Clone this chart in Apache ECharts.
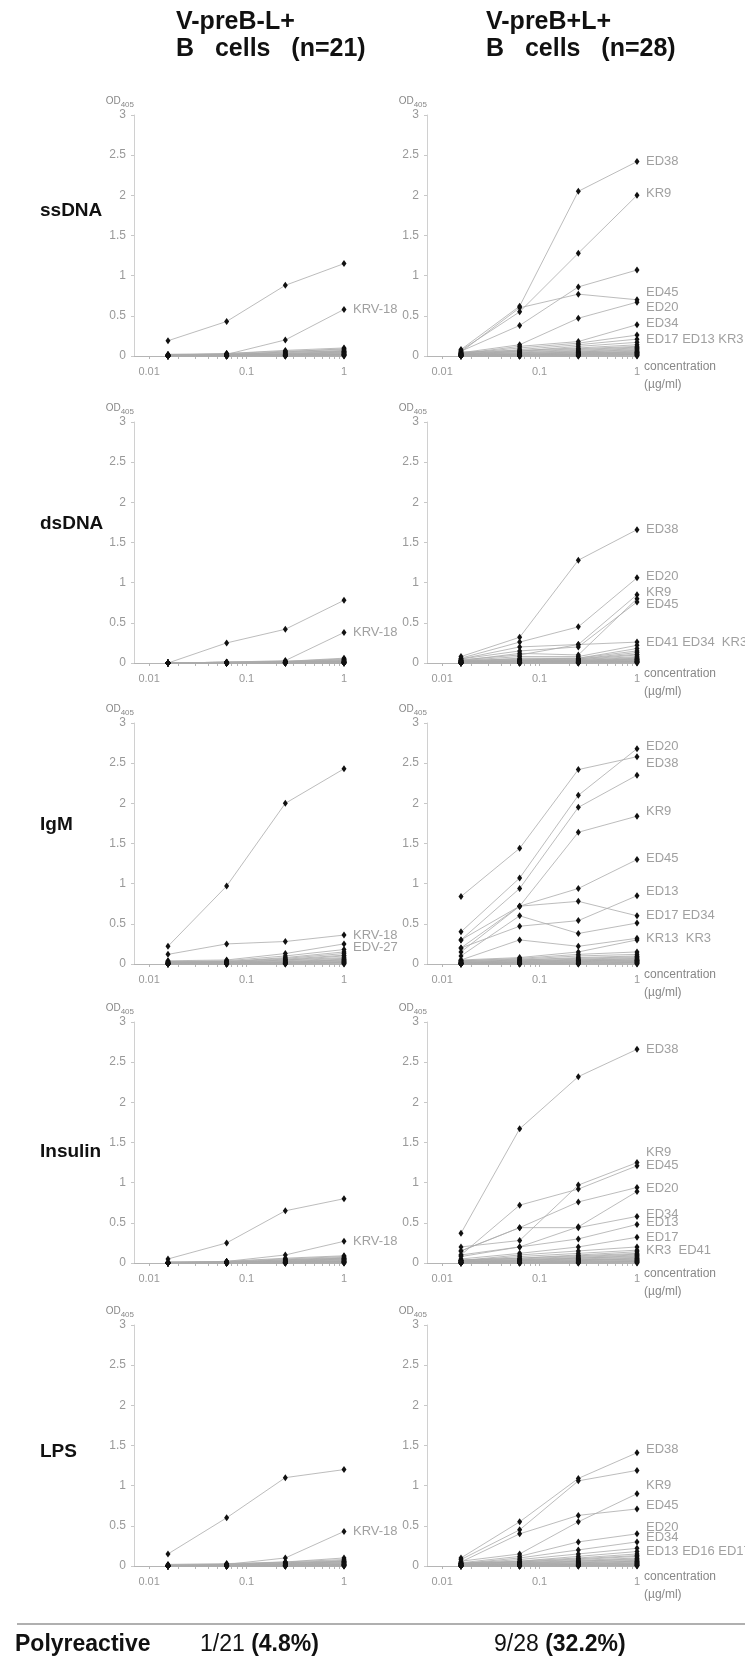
<!DOCTYPE html>
<html>
<head>
<meta charset="utf-8">
<script src="https://cdn.jsdelivr.net/npm/echarts@6/dist/echarts.min.js"></script>
<style>
  html, body { margin: 0; padding: 0; background: #fff; }
  #chart { width: 745px; height: 1662px; }
</style>
</head>
<body>
<div id="chart"></div>
<script>
// antigen concentrations (ug/ml), 4-fold dilutions
var conc = [0.015625, 0.0625, 0.25, 1];
var xLabelVals = [0.01, 0.1, 1];
var xTickVals = [0.01, 0.02, 0.03, 0.04, 0.05, 0.06, 0.07, 0.08, 0.09,
  0.1, 0.2, 0.3, 0.4, 0.5, 0.6, 0.7, 0.8, 0.9, 1];
var rowNames = ['ssDNA', 'dsDNA', 'IgM', 'Insulin', 'LPS'];

// OD405 per clone, one row = one antibody
var ssdnaLeft = [
  [0.19, 0.43, 0.88, 1.15],
  [0.01, 0.02, 0.20, 0.58],
  [0.02, 0.03, 0.07, 0.10], [0.01, 0.02, 0.05, 0.09], [0.01, 0.03, 0.06, 0.08],
  [0.02, 0.02, 0.04, 0.07], [0.01, 0.01, 0.05, 0.06], [0.01, 0.02, 0.03, 0.06],
  [0.00, 0.01, 0.03, 0.05], [0.01, 0.02, 0.02, 0.05], [0.00, 0.01, 0.02, 0.04],
  [0.01, 0.01, 0.02, 0.04], [0.00, 0.01, 0.01, 0.03], [0.00, 0.00, 0.02, 0.03],
  [0.01, 0.01, 0.01, 0.02], [0.00, 0.01, 0.01, 0.02], [0.00, 0.00, 0.01, 0.02],
  [0.00, 0.00, 0.01, 0.01], [0.00, 0.00, 0.00, 0.01], [0.00, 0.01, 0.00, 0.01],
  [0.00, 0.00, 0.00, 0.00]
];
var ssdnaRight = [
  [0.08, 0.62, 2.05, 2.42],   // ED38
  [0.07, 0.55, 1.28, 2.00],   // KR9
  [0.06, 0.38, 0.86, 1.07],
  [0.05, 0.60, 0.77, 0.70],   // ED45
  [0.04, 0.14, 0.47, 0.67],   // ED20
  [0.03, 0.12, 0.18, 0.39],   // ED34
  [0.03, 0.10, 0.16, 0.26],   // ED17
  [0.02, 0.08, 0.14, 0.21],   // ED13
  [0.02, 0.06, 0.12, 0.17],   // KR3
  [0.05, 0.07, 0.10, 0.14], [0.04, 0.06, 0.09, 0.12], [0.03, 0.05, 0.08, 0.11],
  [0.03, 0.04, 0.07, 0.10], [0.02, 0.04, 0.06, 0.09], [0.02, 0.03, 0.05, 0.08],
  [0.02, 0.03, 0.05, 0.07], [0.01, 0.02, 0.04, 0.06], [0.01, 0.02, 0.04, 0.05],
  [0.01, 0.02, 0.03, 0.05], [0.01, 0.01, 0.03, 0.04], [0.01, 0.01, 0.02, 0.04],
  [0.00, 0.01, 0.02, 0.03], [0.00, 0.01, 0.02, 0.03], [0.00, 0.01, 0.01, 0.02],
  [0.00, 0.00, 0.01, 0.02], [0.00, 0.00, 0.01, 0.01], [0.00, 0.00, 0.00, 0.01],
  [0.00, 0.00, 0.00, 0.00]
];
var dsdnaLeft = [
  [0.00, 0.25, 0.42, 0.78],
  [0.00, 0.01, 0.03, 0.38],
  [0.00, 0.01, 0.02, 0.06], [0.00, 0.01, 0.02, 0.05], [0.00, 0.00, 0.02, 0.04],
  [0.00, 0.01, 0.01, 0.04], [0.00, 0.00, 0.01, 0.03], [0.00, 0.00, 0.01, 0.03],
  [0.00, 0.01, 0.01, 0.02], [0.00, 0.00, 0.01, 0.02], [0.00, 0.00, 0.00, 0.02],
  [0.00, 0.00, 0.01, 0.01], [0.00, 0.00, 0.00, 0.01], [0.00, 0.00, 0.00, 0.01],
  [0.00, 0.00, 0.01, 0.01], [0.00, 0.00, 0.00, 0.01], [0.00, 0.00, 0.00, 0.00],
  [0.00, 0.00, 0.00, 0.00], [0.00, 0.00, 0.00, 0.00], [0.00, 0.00, 0.00, 0.00],
  [0.00, 0.00, 0.00, 0.00]
];
var dsdnaRight = [
  [0.08, 0.32, 1.28, 1.66],   // ED38
  [0.06, 0.26, 0.45, 1.06],   // ED20
  [0.05, 0.20, 0.23, 0.85],   // KR9
  [0.03, 0.12, 0.10, 0.80],
  [0.05, 0.15, 0.20, 0.76],   // ED45
  [0.04, 0.10, 0.23, 0.26],   // ED41
  [0.03, 0.08, 0.08, 0.22],   // ED34
  [0.02, 0.06, 0.06, 0.18],   // KR3
  [0.03, 0.05, 0.06, 0.15], [0.03, 0.04, 0.05, 0.13], [0.02, 0.04, 0.05, 0.11],
  [0.02, 0.03, 0.04, 0.10], [0.02, 0.03, 0.04, 0.08], [0.01, 0.03, 0.03, 0.07],
  [0.01, 0.02, 0.03, 0.06], [0.01, 0.02, 0.03, 0.05], [0.01, 0.02, 0.02, 0.05],
  [0.01, 0.01, 0.02, 0.04], [0.01, 0.01, 0.02, 0.04], [0.00, 0.01, 0.02, 0.03],
  [0.00, 0.01, 0.01, 0.03], [0.00, 0.01, 0.01, 0.02], [0.00, 0.01, 0.01, 0.02],
  [0.00, 0.00, 0.01, 0.02], [0.00, 0.00, 0.01, 0.01], [0.00, 0.00, 0.00, 0.01],
  [0.00, 0.00, 0.00, 0.01], [0.00, 0.00, 0.00, 0.00]
];
var igmLeft = [
  [0.22, 0.97, 2.00, 2.43],
  [0.12, 0.25, 0.28, 0.36],   // KRV-18
  [0.04, 0.05, 0.13, 0.25],   // EDV-27
  [0.03, 0.04, 0.10, 0.18], [0.03, 0.03, 0.08, 0.15], [0.02, 0.03, 0.07, 0.13],
  [0.02, 0.03, 0.06, 0.11], [0.02, 0.02, 0.05, 0.10], [0.01, 0.02, 0.05, 0.08],
  [0.01, 0.02, 0.04, 0.07], [0.01, 0.02, 0.03, 0.06], [0.01, 0.01, 0.03, 0.05],
  [0.01, 0.01, 0.02, 0.05], [0.00, 0.01, 0.02, 0.04], [0.00, 0.01, 0.02, 0.03],
  [0.00, 0.01, 0.01, 0.03], [0.00, 0.00, 0.01, 0.02], [0.00, 0.00, 0.01, 0.02],
  [0.00, 0.00, 0.01, 0.01], [0.00, 0.00, 0.00, 0.01], [0.00, 0.00, 0.00, 0.00]
];
var igmRight = [
  [0.84, 1.44, 2.42, 2.58],   // ED38
  [0.40, 1.07, 2.10, 2.68],   // ED20
  [0.30, 0.94, 1.95, 2.35],
  [0.20, 0.72, 1.64, 1.84],   // KR9
  [0.30, 0.72, 0.94, 1.30],   // ED45
  [0.15, 0.72, 0.78, 0.60],   // ED17
  [0.20, 0.47, 0.54, 0.85],   // ED13
  [0.10, 0.60, 0.38, 0.51],   // ED34
  [0.05, 0.30, 0.22, 0.32],   // KR13
  [0.05, 0.08, 0.15, 0.30],   // KR3
  [0.04, 0.07, 0.12, 0.15], [0.04, 0.06, 0.10, 0.12], [0.03, 0.05, 0.08, 0.10],
  [0.03, 0.05, 0.07, 0.09], [0.02, 0.04, 0.06, 0.08], [0.02, 0.04, 0.05, 0.07],
  [0.02, 0.03, 0.05, 0.06], [0.01, 0.03, 0.04, 0.05], [0.01, 0.02, 0.04, 0.05],
  [0.01, 0.02, 0.03, 0.04], [0.01, 0.02, 0.03, 0.04], [0.01, 0.01, 0.02, 0.03],
  [0.00, 0.01, 0.02, 0.03], [0.00, 0.01, 0.01, 0.02], [0.00, 0.01, 0.01, 0.02],
  [0.00, 0.00, 0.01, 0.01], [0.00, 0.00, 0.00, 0.01], [0.00, 0.00, 0.00, 0.00]
];
var insulinLeft = [
  [0.05, 0.25, 0.65, 0.80],
  [0.00, 0.02, 0.10, 0.27],
  [0.01, 0.02, 0.06, 0.09], [0.01, 0.02, 0.05, 0.08], [0.01, 0.01, 0.04, 0.07],
  [0.00, 0.01, 0.04, 0.06], [0.01, 0.01, 0.03, 0.06], [0.00, 0.01, 0.03, 0.05],
  [0.00, 0.01, 0.02, 0.05], [0.00, 0.01, 0.02, 0.04], [0.00, 0.00, 0.02, 0.04],
  [0.00, 0.01, 0.01, 0.03], [0.00, 0.00, 0.01, 0.03], [0.00, 0.00, 0.01, 0.02],
  [0.00, 0.00, 0.01, 0.02], [0.00, 0.00, 0.00, 0.02], [0.00, 0.00, 0.01, 0.01],
  [0.00, 0.00, 0.00, 0.01], [0.00, 0.00, 0.00, 0.01], [0.00, 0.00, 0.00, 0.00],
  [0.00, 0.00, 0.00, 0.00]
];
var insulinRight = [
  [0.37, 1.67, 2.32, 2.66],   // ED38
  [0.20, 0.28, 0.97, 1.25],   // KR9
  [0.10, 0.72, 0.92, 1.21],   // ED45
  [0.15, 0.44, 0.76, 0.94],   // ED20
  [0.10, 0.20, 0.45, 0.89],
  [0.15, 0.44, 0.44, 0.58],   // ED34
  [0.08, 0.20, 0.30, 0.48],   // ED13
  [0.05, 0.12, 0.20, 0.32],   // ED17
  [0.03, 0.10, 0.15, 0.20],   // KR3
  [0.03, 0.08, 0.12, 0.16],   // ED41
  [0.04, 0.06, 0.10, 0.14], [0.03, 0.06, 0.09, 0.12], [0.03, 0.05, 0.08, 0.11],
  [0.03, 0.04, 0.07, 0.10], [0.02, 0.04, 0.06, 0.09], [0.02, 0.03, 0.06, 0.08],
  [0.02, 0.03, 0.05, 0.07], [0.01, 0.03, 0.04, 0.06], [0.01, 0.02, 0.04, 0.05],
  [0.01, 0.02, 0.03, 0.05], [0.01, 0.01, 0.03, 0.04], [0.01, 0.01, 0.02, 0.03],
  [0.00, 0.01, 0.02, 0.03], [0.00, 0.01, 0.01, 0.02], [0.00, 0.00, 0.01, 0.02],
  [0.00, 0.00, 0.01, 0.01], [0.00, 0.00, 0.00, 0.01], [0.00, 0.00, 0.00, 0.00]
];
var lpsLeft = [
  [0.15, 0.60, 1.10, 1.20],
  [0.00, 0.02, 0.10, 0.43],
  [0.02, 0.03, 0.05, 0.10], [0.01, 0.02, 0.05, 0.08], [0.01, 0.02, 0.04, 0.07],
  [0.01, 0.02, 0.04, 0.06], [0.01, 0.01, 0.03, 0.06], [0.00, 0.01, 0.03, 0.05],
  [0.00, 0.01, 0.03, 0.05], [0.00, 0.01, 0.02, 0.04], [0.00, 0.01, 0.02, 0.04],
  [0.00, 0.01, 0.02, 0.03], [0.00, 0.00, 0.01, 0.03], [0.00, 0.00, 0.01, 0.02],
  [0.00, 0.00, 0.01, 0.02], [0.00, 0.00, 0.01, 0.02], [0.00, 0.00, 0.00, 0.01],
  [0.00, 0.00, 0.00, 0.01], [0.00, 0.00, 0.00, 0.01], [0.00, 0.00, 0.00, 0.00],
  [0.00, 0.00, 0.00, 0.00]
];
var lpsRight = [
  [0.10, 0.55, 1.09, 1.41],   // ED38
  [0.08, 0.45, 1.06, 1.19],   // KR9
  [0.06, 0.15, 0.55, 0.90],
  [0.05, 0.40, 0.63, 0.71],   // ED45
  [0.04, 0.12, 0.30, 0.40],   // ED20
  [0.03, 0.10, 0.20, 0.30],   // ED34
  [0.03, 0.08, 0.15, 0.22],   // ED13
  [0.02, 0.06, 0.12, 0.18],   // ED16
  [0.04, 0.06, 0.10, 0.15], [0.03, 0.05, 0.09, 0.13], [0.03, 0.05, 0.08, 0.12],
  [0.03, 0.04, 0.07, 0.10], [0.02, 0.04, 0.06, 0.09], [0.02, 0.03, 0.06, 0.08],
  [0.02, 0.03, 0.05, 0.07], [0.01, 0.03, 0.04, 0.06], [0.01, 0.02, 0.04, 0.06],
  [0.01, 0.02, 0.03, 0.05], [0.01, 0.02, 0.03, 0.04], [0.01, 0.01, 0.02, 0.04],
  [0.00, 0.01, 0.02, 0.03], [0.00, 0.01, 0.02, 0.03], [0.00, 0.01, 0.01, 0.02],
  [0.00, 0.00, 0.01, 0.02], [0.00, 0.00, 0.01, 0.01], [0.00, 0.00, 0.00, 0.01],
  [0.00, 0.00, 0.00, 0.01], [0.00, 0.00, 0.00, 0.00]
];

// clone names written next to the 1 ug/ml points, [text, OD level]
var ssdnaLeftTags = [['KRV-18', 0.58]];
var ssdnaRightTags = [['ED38', 2.42], ['KR9', 2.03], ['ED45', 0.79], ['ED20', 0.61],
  ['ED34', 0.40], ['ED17 ED13 KR3', 0.21]];
var dsdnaLeftTags = [['KRV-18', 0.38]];
var dsdnaRightTags = [['ED38', 1.66], ['ED20', 1.08], ['KR9', 0.88], ['ED45', 0.73],
  ['ED41 ED34  KR3', 0.26]];
var igmLeftTags = [['KRV-18', 0.35], ['EDV-27', 0.21]];
var igmRightTags = [['ED20', 2.71], ['ED38', 2.5], ['KR9', 1.9], ['ED45', 1.32],
  ['ED13', 0.9], ['ED17 ED34', 0.61], ['KR13  KR3', 0.32]];
var insulinLeftTags = [['KRV-18', 0.27]];
var insulinRightTags = [['ED38', 2.66], ['KR9', 1.38], ['ED45', 1.22], ['ED20', 0.93],
  ['ED34', 0.61], ['ED13', 0.5], ['ED17', 0.32], ['KR3  ED41', 0.16]];
var lpsLeftTags = [['KRV-18', 0.43]];
var lpsRightTags = [['ED38', 1.45], ['KR9', 1.0], ['ED45', 0.75], ['ED20', 0.48],
  ['ED34', 0.35], ['ED13 ED16 ED17', 0.18]];

var panels = [
  [ssdnaLeft, ssdnaLeftTags], [ssdnaRight, ssdnaRightTags],
  [dsdnaLeft, dsdnaLeftTags], [dsdnaRight, dsdnaRightTags],
  [igmLeft, igmLeftTags], [igmRight, igmRightTags],
  [insulinLeft, insulinLeftTags], [insulinRight, insulinRightTags],
  [lpsLeft, lpsLeftTags], [lpsRight, lpsRightTags]
];

// layout
var FONT = '"Liberation Sans", Arial, sans-serif';
var rowBottoms = [356, 663, 964, 1263, 1566];
var rowLabelY = [211, 524, 825, 1152, 1452];
var colLefts = [134, 427];
var plotW = 210, plotH = 241;

var grids = [], xAxes = [], yAxes = [], series = [];

panels.forEach(function (p, i) {
  var r = Math.floor(i / 2), c = i % 2;
  grids.push({ left: colLefts[c], top: rowBottoms[r] - plotH, width: plotW, height: plotH });
  xAxes.push({
    type: 'log', gridIndex: i, min: 0.007, max: 1, logBase: 10,
    axisLine: { lineStyle: { color: '#b5b5b5', width: 1 } },
    axisTick: { show: true, customValues: xTickVals, length: 3, lineStyle: { color: '#b5b5b5' } },
    axisLabel: {
      customValues: xLabelVals, color: '#999', fontSize: 11, fontFamily: FONT, margin: 10,
      formatter: function (v) { return String(+(+v).toPrecision(2)); }
    },
    splitLine: { show: false },
    minorTick: { show: false },
    name: c === 1 ? 'concentration\n(µg/ml)' : '',
    nameLocation: 'end', nameGap: 7,
    nameTextStyle: { color: '#888', fontSize: 12, fontFamily: FONT, align: 'left',
      verticalAlign: 'top', lineHeight: 18, padding: [2, 0, 0, 0] }
  });
  yAxes.push({
    type: 'value', gridIndex: i, min: 0, max: 3, interval: 0.5,
    axisLine: { show: true, lineStyle: { color: '#d0d0d0', width: 1 } },
    axisTick: { show: true, length: 3, lineStyle: { color: '#c8c8c8' } },
    axisLabel: { color: '#999', fontSize: 12, fontFamily: FONT, margin: 8 },
    splitLine: { show: false },
    name: '{a|OD}{b|405}', nameLocation: 'end', nameGap: 7,
    nameTextStyle: {
      align: 'right', color: '#888',
      rich: {
        a: { fontSize: 10, fontFamily: FONT, color: '#888', lineHeight: 13, verticalAlign: 'bottom' },
        b: { fontSize: 8, fontFamily: FONT, color: '#888', lineHeight: 13, verticalAlign: 'bottom', padding: [0, 0, -3, 0] }
      }
    }
  });
  p[0].forEach(function (row) {
    series.push({
      type: 'line', xAxisIndex: i, yAxisIndex: i, silent: true, z: 2,
      data: conc.map(function (x, k) { return [x, row[k]]; }),
      symbol: 'diamond', symbolSize: [5, 7],
      lineStyle: { color: '#ababab', width: 0.8 },
      itemStyle: { color: '#111' },
      clip: false
    });
  });
  series.push({
    type: 'scatter', xAxisIndex: i, yAxisIndex: i, silent: true, z: 5,
    symbolSize: 0,
    data: p[1].map(function (t) { return { name: t[0], value: [1, t[1]] }; }),
    label: { show: true, position: 'right', distance: 9, formatter: '{b}',
      color: '#888', fontSize: 13, fontFamily: FONT }
  });
});

var graphics = [
  { type: 'text', left: 176, top: 9, style: { text: 'V-preB-L+\nB   cells   (n=21)',
    font: 'bold 25px ' + FONT, fill: '#111', lineHeight: 27 } },
  { type: 'text', left: 486, top: 9, style: { text: 'V-preB+L+\nB   cells   (n=28)',
    font: 'bold 25px ' + FONT, fill: '#111', lineHeight: 27 } },
  { type: 'line', shape: { x1: 17, y1: 1624, x2: 745, y2: 1624 },
    style: { stroke: '#b0b0b0', lineWidth: 2 } },
  { type: 'text', left: 15, top: 1633, style: { text: 'Polyreactive',
    font: 'bold 23px ' + FONT, fill: '#111' } },
  { type: 'text', left: 200, top: 1633, style: { text: '{n|1/21 }{b|(4.8%)}',
    rich: { n: { font: '23px ' + FONT, fill: '#111' }, b: { font: 'bold 23px ' + FONT, fill: '#111' } } } },
  { type: 'text', left: 494, top: 1633, style: { text: '{n|9/28 }{b|(32.2%)}',
    rich: { n: { font: '23px ' + FONT, fill: '#111' }, b: { font: 'bold 23px ' + FONT, fill: '#111' } } } }
];
rowNames.forEach(function (n, r) {
  graphics.push({ type: 'text', left: 40, top: rowLabelY[r] - 10,
    style: { text: n, font: 'bold 19px ' + FONT, fill: '#111' } });
});

var chart = echarts.init(document.getElementById('chart'), null, { renderer: 'canvas' });
chart.setOption({
  animation: false,
  backgroundColor: '#fff',
  grid: grids,
  xAxis: xAxes,
  yAxis: yAxes,
  series: series,
  graphic: graphics
});
</script>
</body>
</html>
